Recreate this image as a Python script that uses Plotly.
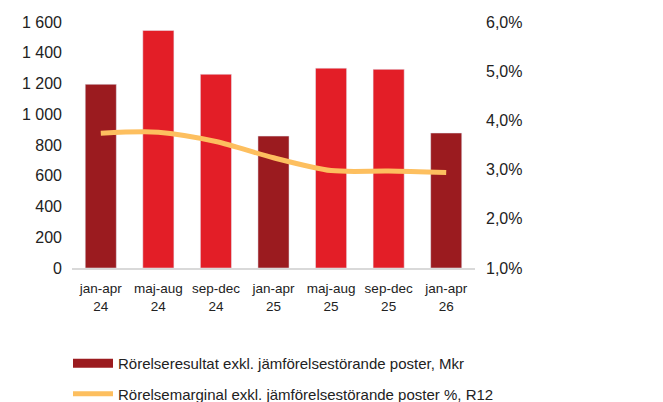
import plotly.graph_objects as go

# Data
periods = ["jan-apr<br>24", "maj-aug<br>24", "sep-dec<br>24", "jan-apr<br>25",
           "maj-aug<br>25", "sep-dec<br>25", "jan-apr<br>26"]
resultat = [1195, 1545, 1260, 858, 1300, 1292, 878]
marginal = [3.74, 3.76, 3.57, 3.24, 2.98, 2.97, 2.94]
bar_colors = ["#9B1B1F", "#E31E27", "#E31E27", "#9B1B1F", "#E31E27", "#E31E27", "#9B1B1F"]

font_family = "Liberation Sans, Arial"
dark_red = "#9B1B1F"
yellow = "#FDBF5F"

# page body adds ~8px margin, so the figure is a bit smaller than the window
W, H = 655, 394

fig = go.Figure()
fig.add_trace(go.Bar(x=periods, y=resultat, marker_color=bar_colors,
                     showlegend=False, yaxis="y"))
# legend entry for the bars (wide rectangle like the original)
fig.add_trace(go.Scatter(x=[None], y=[None], mode="lines",
                         line=dict(color=dark_red, width=9), legendgroup="a",
                         name="Rörelseresultat exkl. jämförelsestörande poster, Mkr"))
fig.add_trace(go.Scatter(x=periods, y=marginal, mode="lines",
                         line=dict(color=yellow, width=5, shape="spline", smoothing=0.8),
                         name="Rörelsemarginal exkl. jämförelsestörande poster %, R12",
                         legendgroup="b", yaxis="y2"))

fig.update_layout(
    width=W, height=H,
    margin=dict(l=64, r=188, t=14, b=134, autoexpand=False),
    paper_bgcolor="white", plot_bgcolor="white",
    separators=", ",
    font=dict(family=font_family, size=16, color="#222222"),
    bargap=0.46,
    xaxis=dict(showline=True, linecolor="#D9D9D9", linewidth=2, automargin=False,
               tickfont=dict(size=13.5), ticks="", ticklabelstandoff=7),
    yaxis=dict(range=[0, 1600], dtick=200, tickformat=",.0f", showgrid=False,
               zeroline=False, ticks="", automargin=False, ticklabelstandoff=9),
    yaxis2=dict(range=[1, 6], dtick=1, tickformat=".1f", ticksuffix="%",
                overlaying="y", side="right", showgrid=False, zeroline=False,
                automargin=False, ticklabelstandoff=10),
    legend=dict(orientation="v", xref="container", yref="container",
                x=60 / W, y=1 - 339 / H, xanchor="left", yanchor="top",
                font=dict(size=15), itemwidth=40, tracegroupgap=8),
)

fig.write_html("out.html")
